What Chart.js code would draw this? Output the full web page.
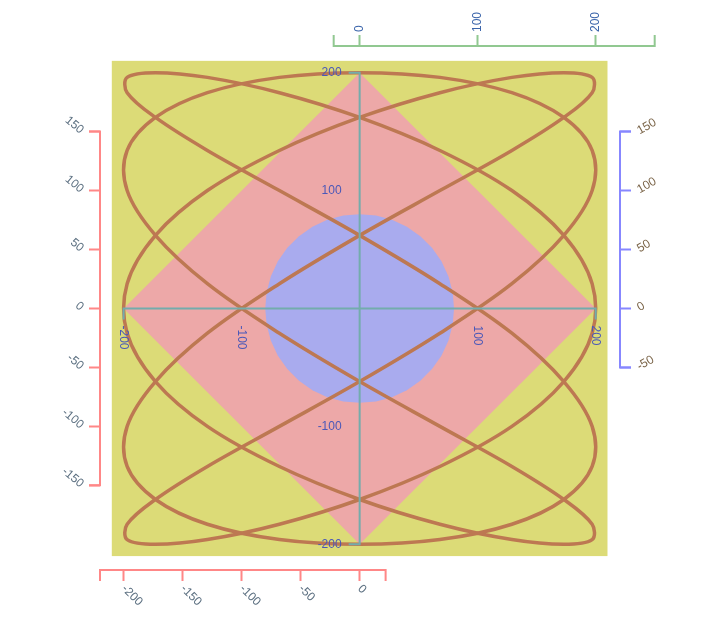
<!DOCTYPE html>
<html>
<head>
<meta charset="utf-8">
<title>Curve with free axes</title>
<script src="https://cdn.jsdelivr.net/npm/chart.js"></script>
<style>
  body { margin: 0; background: #fff; }
</style>
</head>
<body>
<canvas id="chart" width="720" height="620"></canvas>
<script>
// the closed curve
const curveX = [
  0, 68, 129, 173, 197, 197, 173, 129, 68, 0, -68, -129, -173, -197, -197, -173, -129, -68,
  0, 68, 129, 173, 197, 197, 173, 129, 68, 0, -68, -129, -173, -197, -197, -173, -129, -68,
  0, 68, 129, 173, 197, 197, 173, 129, 68, 0, -68, -129, -173, -197, -197, -173, -129, -68,
  0, 68, 129, 173, 197, 197, 173, 129, 68, 0, -68, -129, -173, -197, -197, -173, -129, -68,
  0, 68, 129, 173, 197, 197, 173, 129, 68, 0, -68, -129, -173, -197, -197, -173, -129, -68
];
const curveY = [
  200, 196, 183, 162, 134, 100, 62, 21, -21, -62, -100, -134, -162, -183, -196,
  -200, -196, -183, -162, -134, -100, -62, -21, 21, 62, 100, 134, 162, 183, 196,
  200, 196, 183, 162, 134, 100, 62, 21, -21, -62, -100, -134, -162, -183, -196,
  -200, -196, -183, -162, -134, -100, -62, -21, 21, 62, 100, 134, 162, 183, 196,
  200, 196, 183, 162, 134, 100, 62, 21, -21, -62, -100, -134, -162, -183, -196,
  -200, -196, -183, -162, -134, -100, -62, -21, 21, 62, 100, 134, 162, 183, 196
];

// diamond and disc behind the curve
const diamondX = [0, 200, 0, -200, 0];
const diamondY = [200, 0, -200, 0, 200];
const discX = [80, 78.8, 75.2, 69.3, 61.3, 51.4, 40, 27.4, 13.9, 0, -13.9, -27.4, -40, -51.4, -61.3, -69.3, -75.2, -78.8,
  -80, -78.8, -75.2, -69.3, -61.3, -51.4, -40, -27.4, -13.9, 0, 13.9, 27.4, 40, 51.4, 61.3, 69.3, 75.2, 78.8, 80];
const discY = [0, 13.9, 27.4, 40, 51.4, 61.3, 69.3, 75.2, 78.8, 80, 78.8, 75.2, 69.3, 61.3, 51.4, 40, 27.4, 13.9,
  0, -13.9, -27.4, -40, -51.4, -61.3, -69.3, -75.2, -78.8, -80, -78.8, -75.2, -69.3, -61.3, -51.4, -40, -27.4, -13.9, 0];

// tick labels of each axis
const mainXTicks = [-200, -100, 100, 200];
const mainYTicks = [-200, -100, 100, 200];
const topXTicks = [0, 100, 200];
const bottomXTicks = [-200, -150, -100, -50, 0];
const leftYTicks = [-150, -100, -50, 0, 50, 100, 150];
const rightYTicks = [-50, 0, 50, 100, 150];

// where each axis line starts and ends
const mainXSpan = [-200, 200];
const mainYSpan = [-200, 200];
const topXSpan = [-22, 250];
const bottomXSpan = [-220, 22];
const leftYSpan = [-150, 150];
const rightYSpan = [-50, 150];

const X_MIN = -220, X_MAX = 220.6;
const Y_MIN = -221.8, Y_MAX = 222.6;
const PLOT_HALF = 210;
const TICK = 11;

const teal = 'rgb(115,172,172)';
const green = 'rgb(145,200,145)';
const red = 'rgb(255,135,135)';
const blue = 'rgb(135,135,255)';

function toPoints(xs, ys) {
  return xs.map((x, i) => ({ x: x, y: ys[i] }));
}

// wrap the curve by one point on each side so the spline closes smoothly
const curvePts = toPoints(curveX, curveY);
const n = curvePts.length;
const curveLoop = [curvePts[n - 1]].concat(curvePts, [curvePts[0], curvePts[1]]);

function axis(extra, ticks, color) {
  return Object.assign({
    type: 'linear',
    border: { display: false },
    grid: { drawOnChartArea: false, tickLength: TICK, tickWidth: 2, tickColor: color },
    ticks: { display: false },
    afterBuildTicks: s => { s.ticks = ticks.map(v => ({ value: v })); }
  }, extra);
}

const decor = [
  { id: 'x',  span: mainXSpan,   ticks: mainXTicks,   line: teal,  text: '#4a58b8', out: 1,  rot: 90,  align: 'left',  gap: 17 },
  { id: 'y',  span: mainYSpan,   ticks: mainYTicks,   line: teal,  text: '#4a58b8', out: -1, rot: 0,   align: 'right', gap: 18 },
  { id: 'x2', span: topXSpan,    ticks: topXTicks,    line: green, text: '#3a64aa', out: -1, rot: -90, align: 'left',  gap: 14 },
  { id: 'x3', span: bottomXSpan, ticks: bottomXTicks, line: red,   text: '#5b6f80', out: 1,  rot: 45,  align: 'left',  gap: 17 },
  { id: 'y2', span: leftYSpan,   ticks: leftYTicks,   line: red,   text: '#5b6f80', out: -1, rot: 40,  align: 'right', gap: 18 },
  { id: 'y3', span: rightYSpan,  ticks: rightYTicks,  line: blue,  text: '#7a6448', out: 1,  rot: -30, align: 'left',  gap: 18 }
];

function borderOf(chart, id) {
  const s = chart.scales[id];
  if (id === 'x') return chart.scales.y.getPixelForValue(0);
  if (id === 'y') return chart.scales.x.getPixelForValue(0);
  if (s.position === 'top') return s.bottom;
  if (s.position === 'bottom') return s.top;
  if (s.position === 'left') return s.right;
  return s.left;
}

const decorPlugin = {
  id: 'decor',
  beforeDatasetsDraw(chart) {
    const { ctx, scales: { x, y } } = chart;
    const l = x.getPixelForValue(-PLOT_HALF), r = x.getPixelForValue(PLOT_HALF);
    const t = y.getPixelForValue(PLOT_HALF), b = y.getPixelForValue(-PLOT_HALF);
    ctx.save();
    ctx.fillStyle = '#dcdb77';
    ctx.fillRect(l, t, r - l, b - t);
    ctx.restore();
  },
  afterDatasetsDraw(chart) {
    const ctx = chart.ctx;
    ctx.save();
    ctx.lineWidth = 2;
    decor.forEach(d => {
      const s = chart.scales[d.id];
      const at = borderOf(chart, d.id);
      const a = s.getPixelForValue(d.span[0]);
      const b = s.getPixelForValue(d.span[1]);
      const cap = at + d.out * TICK;
      ctx.strokeStyle = d.line;
      ctx.beginPath();
      if (s.isHorizontal()) {
        ctx.moveTo(a, cap); ctx.lineTo(a, at); ctx.lineTo(b, at); ctx.lineTo(b, cap);
      } else {
        ctx.moveTo(cap, a); ctx.lineTo(at, a); ctx.lineTo(at, b); ctx.lineTo(cap, b);
      }
      ctx.stroke();
    });
    ctx.restore();
  },
  afterDraw(chart) {
    const ctx = chart.ctx;
    ctx.save();
    ctx.font = '12px "Liberation Sans", Arial, sans-serif';
    ctx.textBaseline = 'middle';
    decor.forEach(d => {
      const s = chart.scales[d.id];
      const at = borderOf(chart, d.id) + d.out * d.gap;
      d.ticks.forEach(v => {
        const p = s.getPixelForValue(v);
        ctx.save();
        if (s.isHorizontal()) ctx.translate(p, at); else ctx.translate(at, p);
        ctx.rotate(d.rot * Math.PI / 180);
        ctx.textAlign = d.align;
        ctx.fillStyle = d.text;
        ctx.fillText(String(v), 0, 0);
        ctx.restore();
      });
    });
    ctx.restore();
  }
};

new Chart(document.getElementById('chart'), {
  type: 'scatter',
  data: {
    datasets: [
      {
        label: 'curve',
        data: curveLoop,
        showLine: true,
        borderColor: '#bd7852',
        borderWidth: 3.5,
        tension: 0.35,
        pointRadius: 0,
        fill: false,
        segment: {
          // first and last pieces are only there to shape the spline
          borderColor: c => (c.p0DataIndex === 0 || c.p0DataIndex === curveLoop.length - 2) ? 'rgba(0,0,0,0)' : undefined
        }
      },
      {
        label: 'disc',
        data: toPoints(discX, discY),
        showLine: true,
        borderColor: 'rgba(0,0,0,0)',
        backgroundColor: '#a9abee',
        fill: 'shape',
        pointRadius: 0
      },
      {
        label: 'diamond',
        data: toPoints(diamondX, diamondY),
        showLine: true,
        borderColor: 'rgba(0,0,0,0)',
        backgroundColor: '#eda8a8',
        fill: 'shape',
        pointRadius: 0
      }
    ]
  },
  options: {
    responsive: false,
    animation: false,
    events: [],
    layout: { padding: 0 },
    plugins: {
      legend: { display: false },
      tooltip: { enabled: false }
    },
    scales: {
      x: axis({ position: { y: 0 }, min: X_MIN, max: X_MAX, z: 1 }, mainXTicks, teal),
      y: axis({ position: { x: 0 }, min: Y_MIN, max: Y_MAX, z: 1 }, mainYTicks, teal),
      x2: axis({ axis: 'x', position: 'top', min: X_MIN, max: X_MAX, afterFit: s => { s.height = 46; } }, topXTicks, green),
      x3: axis({ axis: 'x', position: 'bottom', min: X_MIN, max: X_MAX, afterFit: s => { s.height = 50; } }, bottomXTicks, red),
      y2: axis({ axis: 'y', position: 'left', min: Y_MIN, max: Y_MAX, afterFit: s => { s.width = 100; } }, leftYTicks, red),
      y3: axis({ axis: 'y', position: 'right', min: Y_MIN, max: Y_MAX, afterFit: s => { s.width = 100; } }, rightYTicks, blue)
    }
  },
  plugins: [decorPlugin]
});
</script>
</body>
</html>
